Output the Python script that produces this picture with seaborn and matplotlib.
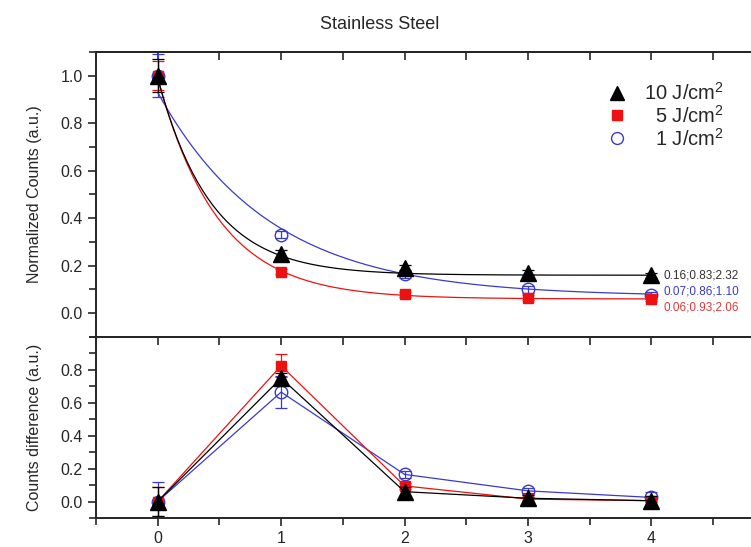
import numpy as np
import pandas as pd
import matplotlib
matplotlib.use("Agg")
import matplotlib.pyplot as plt
import seaborn as sns
from matplotlib.lines import Line2D
from matplotlib.ticker import MultipleLocator, FixedLocator

# pulse number
pulses = [0, 1, 2, 3, 4]
series = ["10 J/cm$^2$", "5 J/cm$^2$", "1 J/cm$^2$"]

# normalized counts (top panel)
norm_10 = [1.00, 0.25, 0.19, 0.17, 0.16]
norm_5 = [1.00, 0.175, 0.08, 0.065, 0.06]
norm_1 = [1.00, 0.33, 0.165, 0.10, 0.075]
norm_err_10 = [0.07, 0.015, 0.015, 0.01, 0.01]
norm_err_5 = [0.06, 0.01, 0.01, 0.01, 0.01]
norm_err_1 = [0.09, 0.015, 0.015, 0.015, 0.015]

# exponential fit parameters y0;A;k  (y = y0 + A*exp(-k*x))
fit_10 = [0.16, 0.83, 2.32]
fit_5 = [0.06, 0.93, 2.06]
fit_1 = [0.07, 0.86, 1.10]
fit_labels = ["0.16;0.83;2.32", "0.06;0.93;2.06", "0.07;0.86;1.10"]

# counts difference (bottom panel)
diff_10 = [0.0, 0.75, 0.06, 0.02, 0.005]
diff_5 = [0.0, 0.825, 0.095, 0.015, 0.005]
diff_1 = [0.0, 0.665, 0.165, 0.065, 0.025]
diff_err_10 = [0.09, 0.03, 0.03, 0.02, 0.03]
diff_err_5 = [0.09, 0.07, 0.02, 0.01, 0.01]
diff_err_1 = [0.12, 0.095, 0.02, 0.015, 0.03]

colors = ["black", "#ee1111", "#3a3acc"]
text_colors = ["#333333", "#d83a3a", "#3a3acc"]
markers = ["^", "s", "o"]
msizes = [11, 7, 9]

sns.set_style("ticks")
plt.rcParams["font.family"] = ["Liberation Sans", "DejaVu Sans"]
plt.rcParams["mathtext.fontset"] = "custom"
plt.rcParams["mathtext.rm"] = "Liberation Sans"

fig = plt.figure(figsize=(7.51, 5.47), dpi=100)
ax1 = fig.add_axes([0.1278, 0.384, 0.904, 0.521])
ax2 = fig.add_axes([0.1278, 0.053, 0.904, 0.331])

norms = [norm_10, norm_5, norm_1]
norm_errs = [norm_err_10, norm_err_5, norm_err_1]
fits = [fit_10, fit_5, fit_1]
diffs = [diff_10, diff_5, diff_1]
diff_errs = [diff_err_10, diff_err_5, diff_err_1]

xfit = np.linspace(0, 4, 200)
# draw in order 1, 5, 10 so black sits on top
for i in [2, 1, 0]:
    c = colors[i]
    y0, a, k = fits[i]
    fit_df = pd.DataFrame({"x": xfit, "y": y0 + a * np.exp(-k * xfit)})
    sns.lineplot(data=fit_df, x="x", y="y", ax=ax1, color=c, lw=0.9)
    ax1.errorbar(pulses, norms[i], yerr=norm_errs[i], fmt="none", ecolor=c,
                 elinewidth=0.9, capsize=4, capthick=0.9)
    face = "none" if markers[i] == "o" else c
    ax1.plot(pulses, norms[i], ls="none", marker=markers[i], ms=msizes[i],
             mfc=face, mec=c, mew=1.0)

    diff_df = pd.DataFrame({"x": pulses, "y": diffs[i]})
    sns.lineplot(data=diff_df, x="x", y="y", ax=ax2, color=c, lw=0.9)
    ax2.errorbar(pulses, diffs[i], yerr=diff_errs[i], fmt="none", ecolor=c,
                 elinewidth=0.9, capsize=4, capthick=0.9)
    ax2.plot(pulses, diffs[i], ls="none", marker=markers[i], ms=msizes[i],
             mfc=face, mec=c, mew=1.0)

# fit parameter labels
ax1.text(4.1, 0.16, fit_labels[0], color=text_colors[0], fontsize=8.5, va="center")
ax1.text(4.1, 0.092, fit_labels[2], color=text_colors[2], fontsize=8.5, va="center")
ax1.text(4.1, 0.025, fit_labels[1], color=text_colors[1], fontsize=8.5, va="center")

handles = []
for i in range(3):
    face = "none" if markers[i] == "o" else colors[i]
    handles.append(Line2D([], [], ls="none", marker=markers[i], ms=msizes[i] * 0.95,
                          mfc=face, mec=colors[i]))
leg_labels = ["10 J/cm$^2$", "  5 J/cm$^2$", "  1 J/cm$^2$"]
ax1.legend(handles, leg_labels, loc="upper right", bbox_to_anchor=(0.945, 0.945),
           frameon=False, fontsize=14.5, handletextpad=0.7, labelspacing=0.05,
           borderpad=0.2, handlelength=1.2)

for ax in (ax1, ax2):
    ax.set_xlim(-0.5, 5.0)
    ax.xaxis.set_major_locator(FixedLocator(pulses))
    ax.xaxis.set_minor_locator(MultipleLocator(0.5))
    ax.yaxis.set_minor_locator(MultipleLocator(0.1))
    ax.tick_params(axis="both", which="major", direction="out", length=6, width=1.2,
                   labelsize=11.5)
    ax.tick_params(axis="both", which="minor", direction="out", length=5, width=1.2)
    for s in ax.spines.values():
        s.set_linewidth(1.4)
    ax.set_xlabel("")
    sec = ax.secondary_xaxis("top")
    sec.xaxis.set_major_locator(FixedLocator(pulses))
    sec.xaxis.set_minor_locator(MultipleLocator(0.5))
    sec.tick_params(axis="x", which="both", direction="in", length=6, width=1.2,
                    labeltop=False)
    sec.spines["top"].set_linewidth(1.4)

ax1.set_ylim(-0.1, 1.1)
ax1.yaxis.set_major_locator(MultipleLocator(0.2))
ax1.tick_params(axis="x", labelbottom=False)
ax1.set_ylabel("Normalized Counts (a.u.)", fontsize=11.5)

ax2.set_ylim(-0.1, 1.0)
ax2.set_yticks([0.0, 0.2, 0.4, 0.6, 0.8])
ax2.set_ylabel("Counts difference (a.u.)", fontsize=11.5)

ax1.yaxis.set_label_coords(-0.08, 0.5)
ax2.yaxis.set_label_coords(-0.08, 0.5)

fig.text(0.505, 0.955, "Stainless Steel", ha="center", va="center", fontsize=13)

fig.savefig("out.png", dpi=100)
